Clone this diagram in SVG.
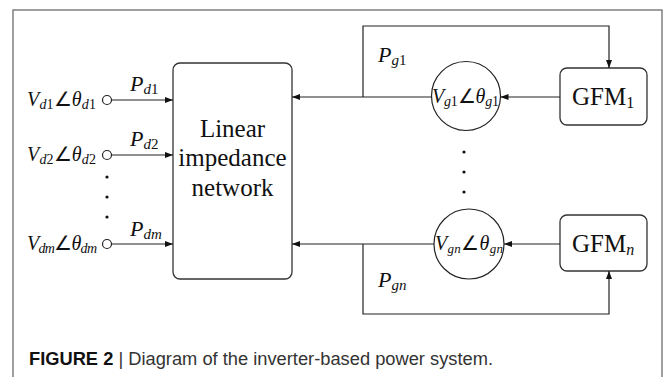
<svg xmlns="http://www.w3.org/2000/svg" width="665" height="377" viewBox="0 0 665 377">
<style>
.frame{fill:none;stroke:#808080;stroke-width:1.5}
.box{fill:#fff;stroke:#333;stroke-width:1.3}
.ln{fill:none;stroke:#222;stroke-width:1.2}
.t{font-family:"Liberation Serif","Times New Roman",serif;fill:#111}
.it{font-style:italic}
.cap{font-family:"Liberation Sans",Arial,sans-serif;font-size:18.3px;fill:#333}
</style>
<defs>
<marker id="ah" markerWidth="8" markerHeight="6" refX="8" refY="3" orient="auto" markerUnits="userSpaceOnUse">
<path d="M0,0 L8,3 L0,6 Z" fill="#111"/>
</marker>
</defs>
<rect width="665" height="377" fill="#fff"/>
<path class="frame" d="M13,377 V10 H662 V377"/>

<g id="network">
<rect class="box" x="173" y="63" width="119" height="216" rx="7"/>
<text class="t" x="232.5" y="137" font-size="25" text-anchor="middle">Linear</text>
<text class="t" x="232.5" y="166" font-size="25" text-anchor="middle">impedance</text>
<text class="t" x="232.5" y="196" font-size="25" text-anchor="middle">network</text>
</g>

<g id="d1">
<circle class="ln" cx="107" cy="100" r="4.5"/>
<text class="t" x="27" y="106" font-size="20" textLength="69"><tspan class="it">V</tspan><tspan class="it" font-size="14" dy="3">d</tspan><tspan font-size="14">1</tspan><tspan dy="-3">∠</tspan><tspan class="it">θ</tspan><tspan class="it" font-size="14" dy="3">d</tspan><tspan font-size="14">1</tspan></text>
</g>
<g id="d2">
<circle class="ln" cx="107" cy="155" r="4.5"/>
<text class="t" x="27" y="161" font-size="20" textLength="69"><tspan class="it">V</tspan><tspan class="it" font-size="14" dy="3">d</tspan><tspan font-size="14">2</tspan><tspan dy="-3">∠</tspan><tspan class="it">θ</tspan><tspan class="it" font-size="14" dy="3">d</tspan><tspan font-size="14">2</tspan></text>
</g>
<g id="dm">
<circle class="ln" cx="107" cy="244" r="4.5"/>
<text class="t" x="27" y="250" font-size="20" textLength="70"><tspan class="it">V</tspan><tspan class="it" font-size="14" dy="3">dm</tspan><tspan dy="-3">∠</tspan><tspan class="it">θ</tspan><tspan class="it" font-size="14" dy="3">dm</tspan></text>
</g>
<g id="ddots" fill="#111">
<circle cx="107" cy="177" r="1.6"/>
<circle cx="107" cy="197" r="1.6"/>
<circle cx="107" cy="217" r="1.6"/>
</g>

<g id="vg1">
<circle class="ln" cx="466" cy="96" r="34.5"/>
<text class="t" x="432" y="103" font-size="20" textLength="67"><tspan class="it">V</tspan><tspan class="it" font-size="14" dy="3">g</tspan><tspan font-size="14">1</tspan><tspan dy="-3">∠</tspan><tspan class="it">θ</tspan><tspan class="it" font-size="14" dy="3">g</tspan><tspan font-size="14">1</tspan></text>
</g>
<g id="vgn">
<circle class="ln" cx="469" cy="244" r="35"/>
<text class="t" x="435" y="250" font-size="20" textLength="68"><tspan class="it">V</tspan><tspan class="it" font-size="13" dy="3">gn</tspan><tspan dy="-3">∠</tspan><tspan class="it">θ</tspan><tspan class="it" font-size="13" dy="3">gn</tspan></text>
</g>
<g id="gdots" fill="#111">
<circle cx="464" cy="152" r="1.6"/>
<circle cx="464" cy="172" r="1.6"/>
<circle cx="464" cy="192" r="1.6"/>
</g>

<g id="gfm1">
<rect class="box" x="560" y="68" width="87" height="57" rx="7"/>
<text class="t" x="572" y="105" font-size="25">GFM<tspan font-size="16" dy="3">1</tspan></text>
</g>
<g id="gfmn">
<rect class="box" x="560" y="215" width="87" height="56" rx="7"/>
<text class="t" x="572" y="252" font-size="25">GFM<tspan class="it" font-size="16" dy="3">n</tspan></text>
</g>

<g id="connectors">
<line class="ln" x1="111.5" y1="100" x2="173" y2="100" marker-end="url(#ah)"/>
<line class="ln" x1="111.5" y1="155" x2="173" y2="155" marker-end="url(#ah)"/>
<line class="ln" x1="111.5" y1="244" x2="173" y2="244" marker-end="url(#ah)"/>
<line class="ln" x1="431.5" y1="97" x2="292" y2="97" marker-end="url(#ah)"/>
<line class="ln" x1="434" y1="244" x2="292" y2="244" marker-end="url(#ah)"/>
<line class="ln" x1="560" y1="97" x2="500.5" y2="97" marker-end="url(#ah)"/>
<line class="ln" x1="560" y1="244" x2="504" y2="244" marker-end="url(#ah)"/>
<path class="ln" d="M363,97 V26 H609 V68" marker-end="url(#ah)"/>
<path class="ln" d="M363,244 V314 H609 V271" marker-end="url(#ah)"/>
</g>

<g id="labels">
<text class="t" x="130" y="91" font-size="22"><tspan class="it">P</tspan><tspan class="it" font-size="15" dy="3">d</tspan><tspan font-size="15">1</tspan></text>
<text class="t" x="130" y="146" font-size="22"><tspan class="it">P</tspan><tspan class="it" font-size="15" dy="3">d</tspan><tspan font-size="15">2</tspan></text>
<text class="t" x="130" y="236" font-size="22"><tspan class="it">P</tspan><tspan class="it" font-size="15" dy="3">dm</tspan></text>
<text class="t" x="378" y="62" font-size="22"><tspan class="it">P</tspan><tspan class="it" font-size="15" dy="3">g</tspan><tspan font-size="15">1</tspan></text>
<text class="t" x="378" y="287" font-size="22"><tspan class="it">P</tspan><tspan class="it" font-size="15" dy="3">gn</tspan></text>
</g>

<text class="cap" x="29" y="365"><tspan font-weight="bold" fill="#111">FIGURE 2</tspan> | Diagram of the inverter-based power system.</text>
</svg>
